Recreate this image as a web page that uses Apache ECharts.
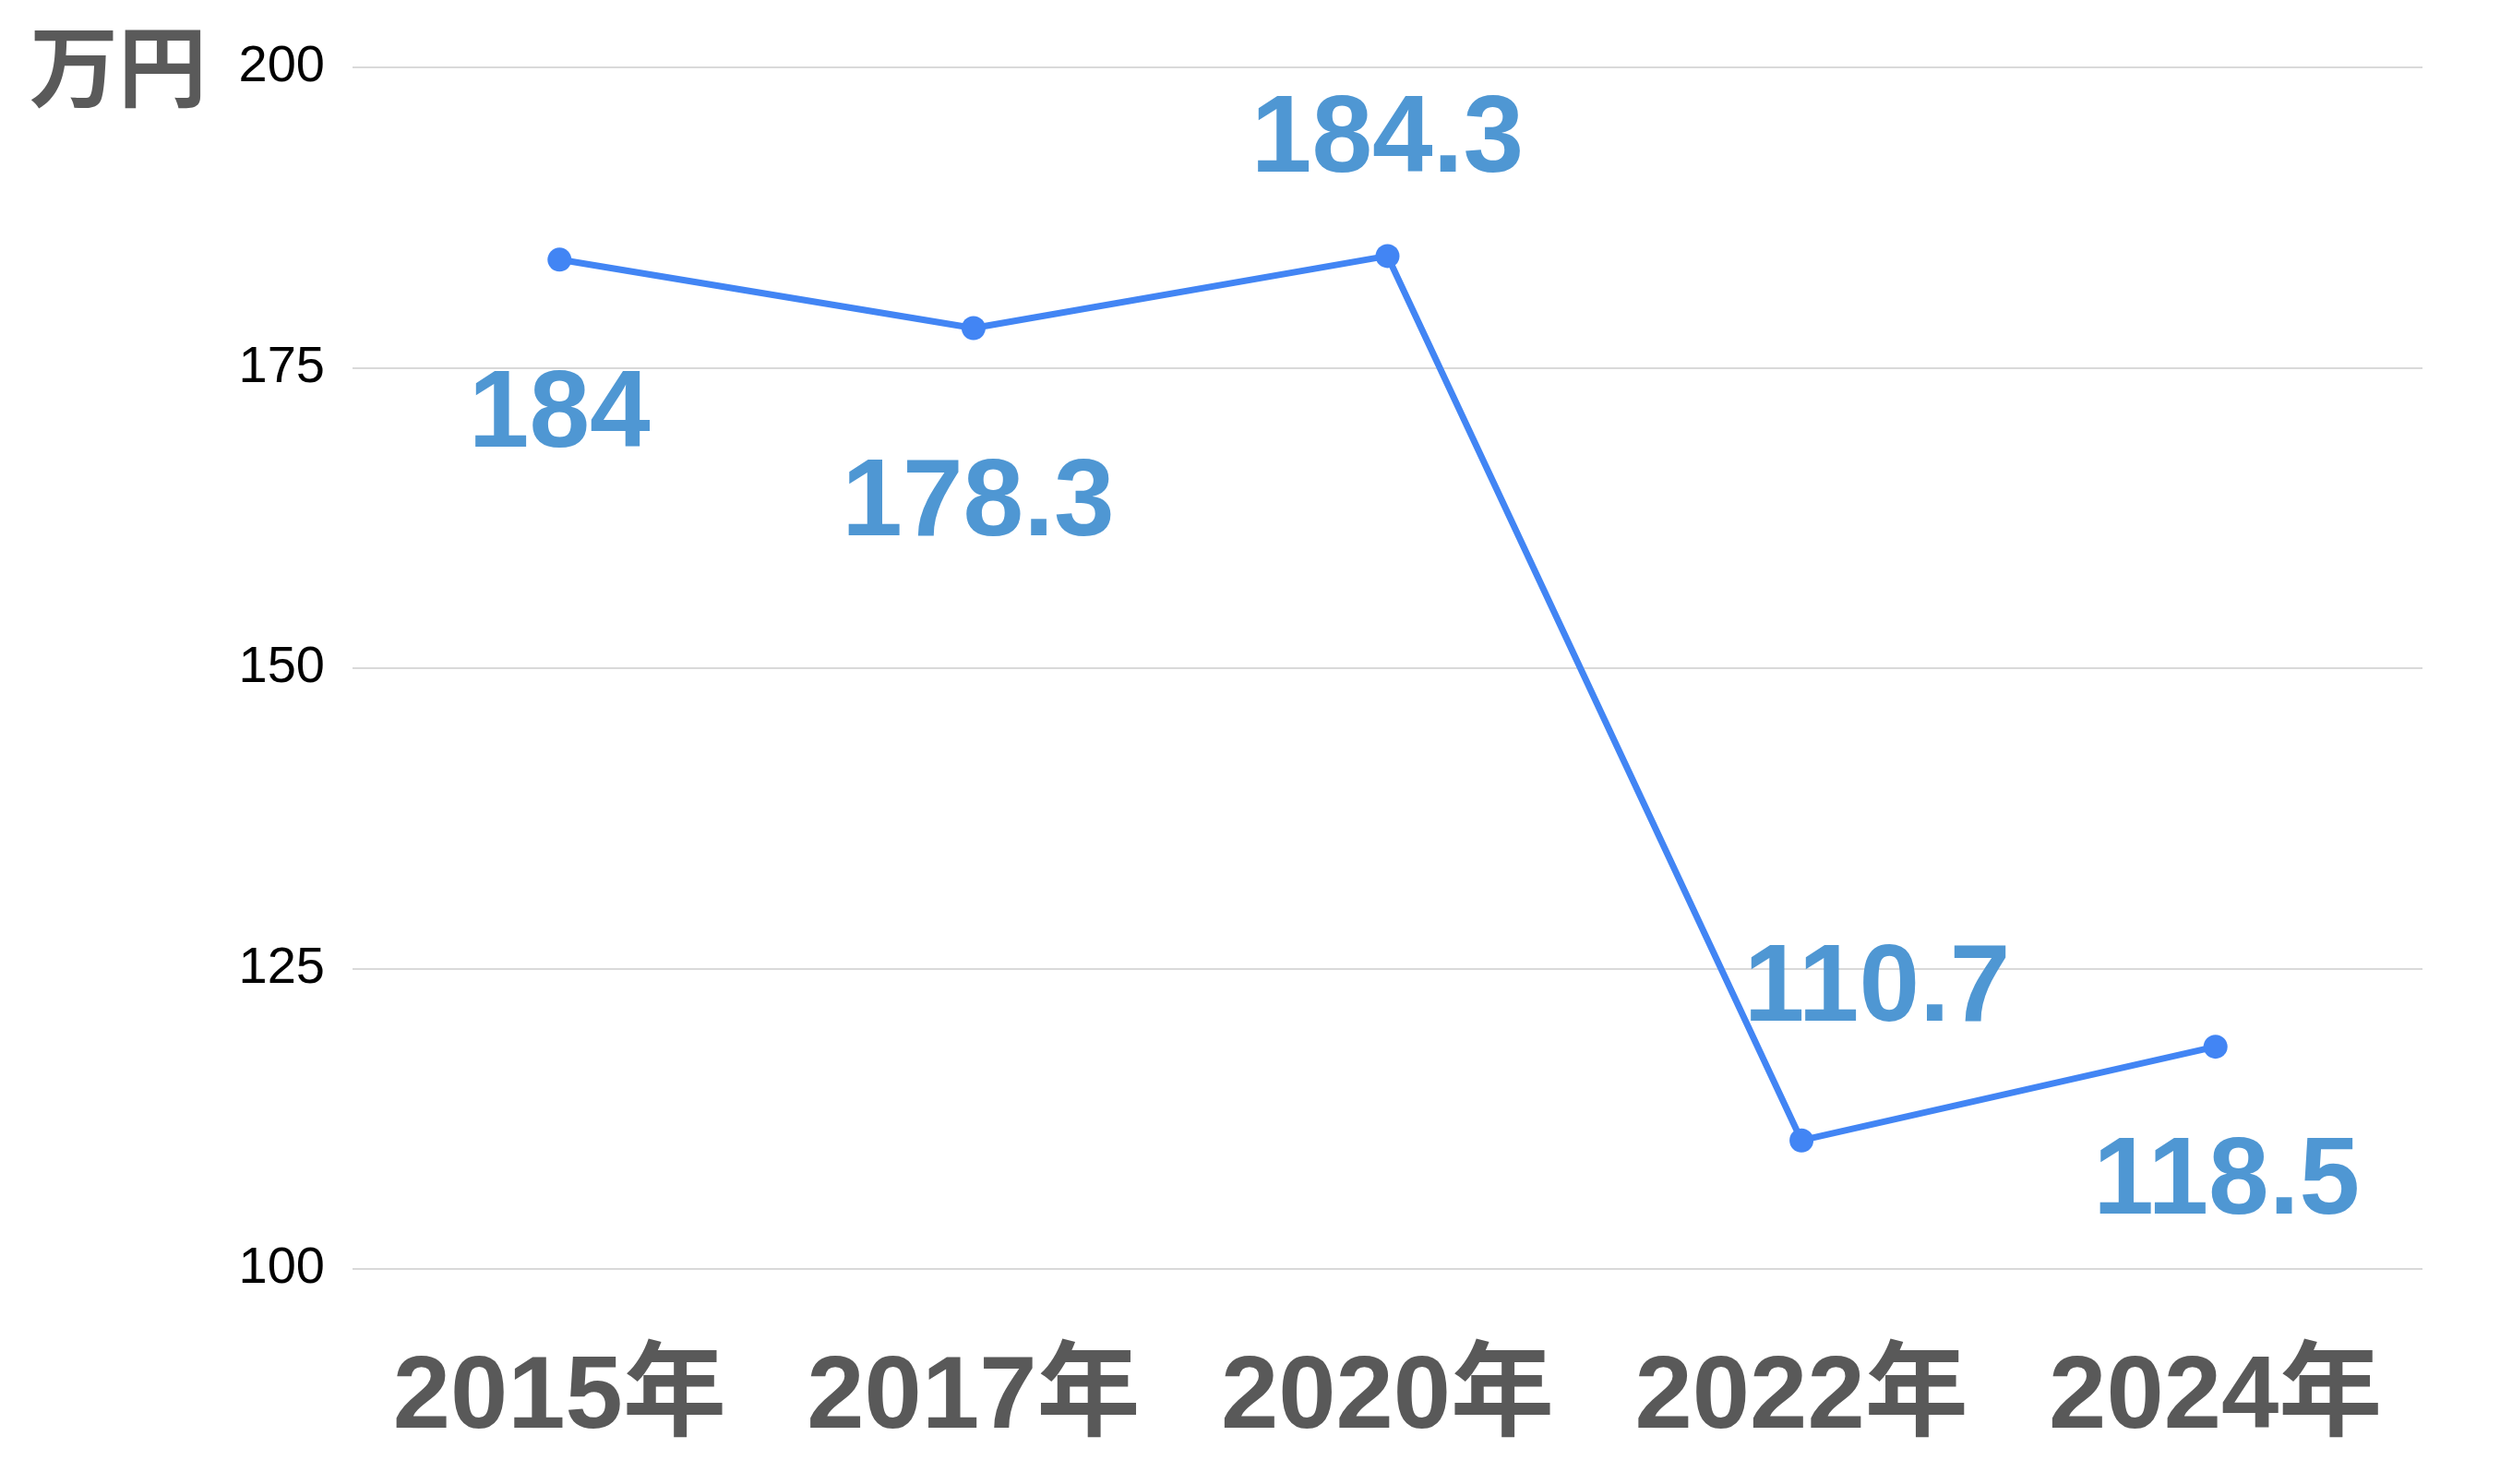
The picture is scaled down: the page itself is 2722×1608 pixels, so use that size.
<!DOCTYPE html>
<html><head><meta charset="utf-8">
<script src="https://cdn.jsdelivr.net/npm/echarts@6/dist/echarts.min.js"></script>
<style>html,body{margin:0;padding:0;background:#fff}#c{width:2722px;height:1608px}</style>
</head><body><div id="c"></div>
<script>
const categories = ["2015年", "2017年", "2020年", "2022年", "2024年"];
const values = [184, 178.3, 184.3, 110.7, 118.5];
const labelPositions = ["bottom", "bottom", "top", "top", "bottom"];
const labelDistances = [98, 120, 52, 90, 76];
const labelShiftX = [0, 5, 0, 82, 12];
const yTicks = [100, 125, 150, 175, 200];
const unitLabel = "万円";

const FONT = "'Liberation Sans', Arial, 'Noto Sans CJK JP', sans-serif";
const chart = echarts.init(document.getElementById('c'));
chart.setOption({
  animation: false,
  backgroundColor: '#ffffff',
  grid: { left: 382, right: 97, top: 73, bottom: 233 },
  graphic: [{
    type: 'text', left: 32, top: 24,
    style: { text: unitLabel, fontSize: 96, fontWeight: 'bold', fill: '#5a5a5a', fontFamily: "'Noto Sans CJK JP', sans-serif" }
  }],
  xAxis: {
    type: 'category', data: categories, boundaryGap: true,
    axisLine: { show: false }, axisTick: { show: false },
    axisLabel: { interval: 0, fontSize: 112, fontWeight: 'bold', color: '#595959', margin: 85, fontFamily: FONT }
  },
  yAxis: {
    type: 'value', min: yTicks[0], max: yTicks[yTicks.length - 1], interval: 25,
    axisLine: { show: false }, axisTick: { show: false },
    axisLabel: { fontSize: 56, color: '#000000', margin: 30, fontFamily: FONT },
    splitLine: { lineStyle: { color: '#d9d9d9', width: 2 } }
  },
  series: [{
    type: 'line',
    data: values.map((v, i) => ({
      value: v,
      label: { position: labelPositions[i], distance: labelDistances[i], offset: [labelShiftX[i], 0] }
    })),
    symbol: 'circle', symbolSize: 26,
    lineStyle: { color: '#4285f4', width: 7 },
    itemStyle: { color: '#4285f4' },
    label: { show: true, fontSize: 118, fontWeight: 'bold', color: '#4f97d3', fontFamily: FONT }
  }]
});
</script></body></html>
